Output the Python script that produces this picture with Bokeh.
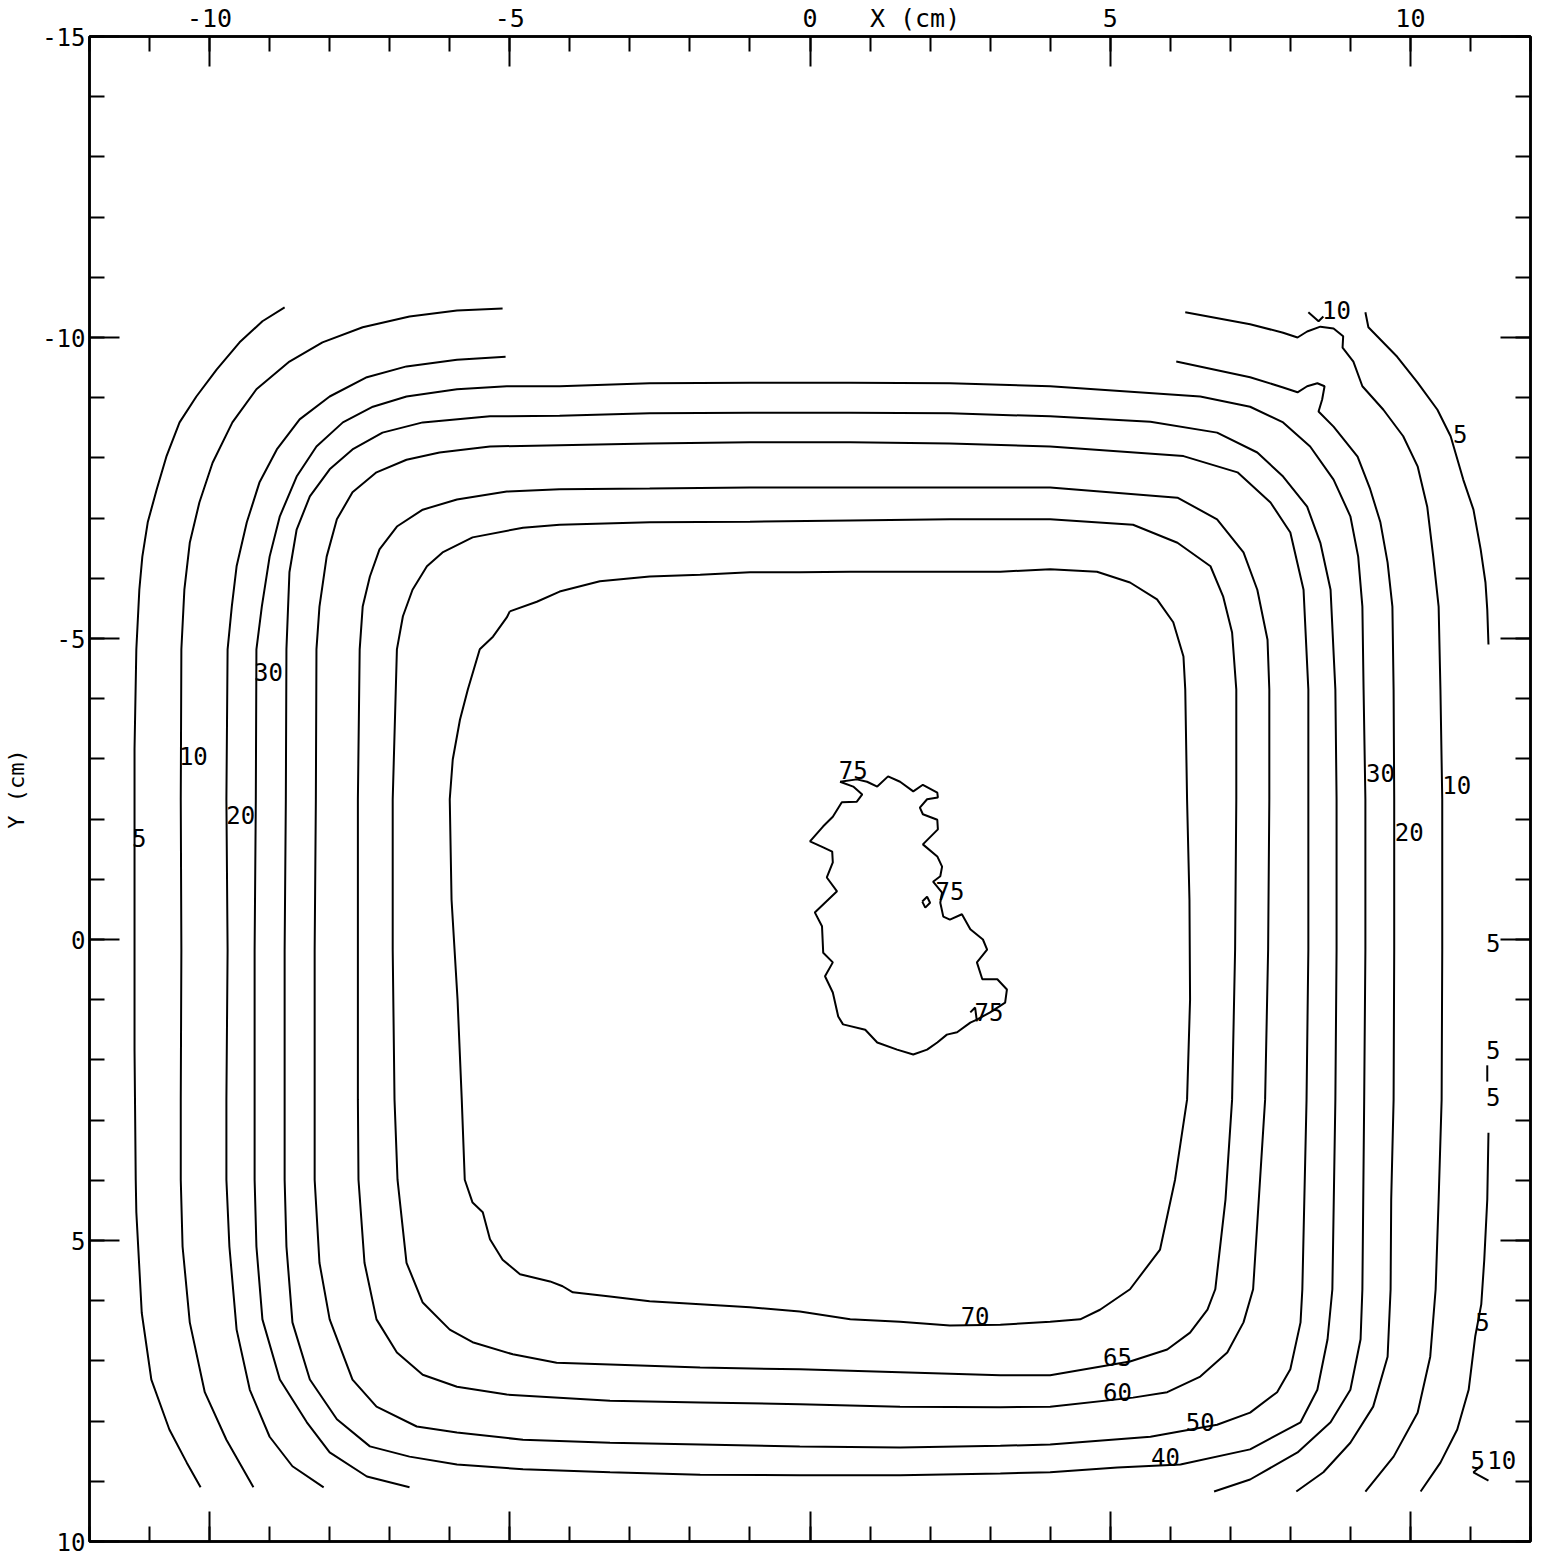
from bokeh.plotting import figure
from bokeh.models import Range1d, LinearAxis, FixedTicker, CustomJSTickFormatter
from bokeh.core.properties import value
from bokeh.embed import file_html
from bokeh.resources import INLINE

FONT = "DejaVu Sans Mono"

# ---------------- axis ticks ----------------
x_major = [-10, -5, 0, 5, 10]
x_minor = list(range(-12, 13))
# top row of texts: tick values plus the axis title "X (cm)"
x_label_pos = [-10, -5, 0, 1.75, 5, 10]
x_label_text = ["-10", "-5", "0", "X (cm)", "5", "10"]
y_major = [-15, -10, -5, 0, 5, 10]
y_major_labels = ["-15", "-10", "-5", "0", "5", "10"]
y_minor = list(range(-15, 11))

# ---------------- contour lines (cm) ----------------
c5_left_x = [-8.75, -9.12, -9.5, -9.88, -10.22, -10.5, -10.72, -10.88, -11.03, -11.12, -11.17, -11.22,
             -11.25, -11.25, -11.25, -11.25, -11.23, -11.22, -11.13, -10.97, -10.67, -10.38, -10.15]
c5_left_y = [-10.5, -10.27, -9.92, -9.47, -9.02, -8.59, -8.02, -7.48, -6.93, -6.36, -5.81, -4.82,
             -3.16, -1.5, 0.17, 1.83, 3.99, 4.53, 6.2, 7.31, 8.14, 8.69, 9.1]

c10_left_x = [-5.12, -5.88, -6.67, -7.45, -8.12, -8.67, -9.22, -9.62, -9.95, -10.17, -10.33, -10.42,
              -10.47, -10.48, -10.47, -10.48, -10.48, -10.45, -10.33, -10.08, -9.72, -9.27]
c10_left_y = [-10.48, -10.45, -10.35, -10.17, -9.92, -9.6, -9.14, -8.59, -7.92, -7.26, -6.59, -5.81,
              -4.82, -2.33, 0.17, 2.66, 3.99, 5.1, 6.36, 7.52, 8.31, 9.1]

c20_left_x = [-5.07, -5.88, -6.72, -7.38, -8.0, -8.5, -8.88, -9.17, -9.38, -9.55, -9.63, -9.7,
              -9.72, -9.7, -9.72, -9.72, -9.67, -9.55, -9.33, -9.0, -8.62, -8.1]
c20_left_y = [-9.68, -9.63, -9.52, -9.34, -9.02, -8.64, -8.14, -7.59, -6.93, -6.2, -5.53, -4.82,
              -2.33, 0.17, 2.66, 3.99, 5.1, 6.48, 7.48, 8.26, 8.75, 9.1]

c30_x = [-6.67, -7.38, -8.0, -8.38, -8.83, -9.12, -9.22, -9.25, -9.25, -9.25, -9.23, -9.22, -9.13,
         -9.0, -8.83, -8.55, -8.22, -7.78, -7.28, -6.72, -5.88, -5.05, -4.17, -2.67, -1.0, 0.67,
         2.33, 4.0, 6.5, 7.33, 7.88, 8.33, 8.72, 9.0, 9.13, 9.2, 9.22, 9.25, 9.25, 9.23, 9.2, 9.17,
         9.0, 8.67, 8.12, 7.33, 6.73]
c30_y = [9.1, 8.92, 8.52, 8.02, 7.31, 6.31, 5.1, 3.99, 2.66, 0.17, -2.33, -4.82, -5.53, -6.36,
         -7.03, -7.69, -8.19, -8.59, -8.85, -9.02, -9.14, -9.19, -9.19, -9.24, -9.25, -9.25, -9.24,
         -9.19, -9.02, -8.85, -8.59, -8.19, -7.64, -7.03, -6.36, -5.53, -4.15, -2.33, 0.17, 2.66,
         5.81, 6.64, 7.48, 8.02, 8.52, 8.97, 9.17]

c40_x = [-4.17, -5.33, -6.45, -7.12, -7.62, -8.0, -8.33, -8.55, -8.67, -8.72, -8.73, -8.75, -8.75,
         -8.75, -8.72, -8.62, -8.33, -7.88, -7.33, -6.67, -5.88, -4.78, -3.33, -1.83, -0.17, 1.5,
         3.17, 4.0, 5.12, 6.17, 7.33, 8.17, 8.45, 8.62, 8.7, 8.75, 8.77, 8.77, 8.75, 8.67, 8.5,
         8.28, 7.88, 7.45, 6.78, 5.67, 4.0, 2.33, 0.67, -1.0, -2.67, -4.17]
c40_y = [-8.7, -8.69, -8.59, -8.42, -8.14, -7.81, -7.36, -6.81, -6.1, -4.82, -2.33, 0.17, 2.66,
         3.99, 5.1, 6.36, 7.31, 7.97, 8.42, 8.59, 8.72, 8.8, 8.85, 8.89, 8.9, 8.9, 8.87, 8.85, 8.77,
         8.72, 8.47, 8.02, 7.48, 6.64, 5.81, 2.66, 0.17, -2.33, -4.15, -5.81, -6.59, -7.19, -7.69,
         -8.09, -8.42, -8.6, -8.69, -8.74, -8.75, -8.75, -8.74, -8.7]

c50_x = [-4.17, -5.33, -6.17, -6.72, -7.22, -7.62, -7.88, -8.05, -8.17, -8.22, -8.23, -8.25, -8.25,
         -8.25, -8.17, -8.0, -7.62, -7.22, -6.55, -5.88, -4.78, -3.33, -1.83, -0.17, 1.5, 3.17, 4.0,
         5.67, 6.78, 7.33, 7.78, 8.0, 8.17, 8.2, 8.27, 8.3, 8.3, 8.3, 8.22, 8.0, 7.67, 7.12, 6.22,
         4.0, 2.33, 0.67, -1.0, -2.67, -4.17]
c50_y = [-8.21, -8.19, -8.09, -7.97, -7.76, -7.43, -6.98, -6.36, -5.53, -4.82, -2.33, 0.17, 2.66,
         3.99, 5.37, 6.31, 7.31, 7.76, 8.09, 8.19, 8.31, 8.36, 8.39, 8.42, 8.44, 8.41, 8.39, 8.26,
         8.06, 7.86, 7.52, 7.14, 6.36, 5.81, 2.66, 0.17, -2.33, -4.15, -5.81, -6.76, -7.26, -7.76,
         -8.03, -8.19, -8.24, -8.26, -8.26, -8.24, -8.21]

c60_x = [-4.17, -5.05, -5.88, -6.45, -6.88, -7.17, -7.33, -7.45, -7.5, -7.53, -7.53, -7.53, -7.52,
         -7.42, -7.22, -6.88, -6.45, -5.88, -5.05, -3.33, -1.83, -0.17, 1.5, 3.17, 4.0, 5.38, 5.95,
         6.5, 6.95, 7.22, 7.38, 7.58, 7.63, 7.65, 7.65, 7.62, 7.45, 7.22, 6.78, 6.12, 4.0, 2.33,
         0.67, -1.0, -2.67, -4.17]
c60_y = [-7.48, -7.44, -7.31, -7.14, -6.86, -6.48, -6.03, -5.53, -4.82, -2.33, 0.17, 2.66, 3.99,
         5.37, 6.31, 6.86, 7.23, 7.43, 7.56, 7.66, 7.69, 7.72, 7.76, 7.77, 7.76, 7.61, 7.52, 7.26,
         6.86, 6.36, 5.81, 2.66, 0.17, -2.33, -4.15, -4.98, -5.81, -6.43, -6.98, -7.34, -7.51,
         -7.51, -7.51, -7.51, -7.49, -7.48]

c65_x = [-4.17, -4.78, -5.62, -6.12, -6.38, -6.62, -6.78, -6.88, -6.95, -6.95, -6.92, -6.87, -6.72,
         -6.45, -6.0, -5.62, -4.95, -4.22, -3.33, -1.83, -0.17, 1.5, 3.17, 4.0, 5.33, 5.95, 6.33,
         6.62, 6.75, 6.92, 7.03, 7.08, 7.1, 7.1, 7.03, 6.88, 6.67, 6.12, 5.38, 4.0, 2.33, 0.67,
         -1.0, -2.67, -4.17]
c65_y = [-6.89, -6.84, -6.68, -6.43, -6.2, -5.81, -5.37, -4.82, -2.33, 0.17, 2.66, 3.99, 5.37,
         6.03, 6.48, 6.69, 6.89, 7.03, 7.06, 7.11, 7.14, 7.19, 7.24, 7.24, 7.01, 6.81, 6.53, 6.15,
         5.81, 4.32, 2.66, 0.17, -2.33, -4.15, -5.1, -5.7, -6.2, -6.59, -6.89, -6.98, -6.98, -6.96,
         -6.94, -6.93, -6.89]

c70_x = [-5.0, -4.55, -4.17, -3.5, -2.67, -1.83, -1.0, -0.17, 0.67, 1.5, 2.33, 3.17, 4.0, 4.78,
         5.33, 5.78, 6.05, 6.22, 6.25, 6.28, 6.32, 6.33, 6.28, 6.08, 5.83, 5.33, 4.83, 4.5, 4.0,
         3.17, 2.33, 1.5, 0.67, -0.17, -1.0, -1.83, -2.67, -3.33, -3.95, -4.12, -4.33, -4.83,
         -5.12, -5.33, -5.45, -5.62, -5.75, -5.8, -5.87, -5.97, -6.0, -5.95, -5.83, -5.7, -5.5,
         -5.28, -5.05, -5.0]
c70_y = [-5.45, -5.61, -5.78, -5.95, -6.03, -6.06, -6.1, -6.1, -6.11, -6.11, -6.11, -6.11, -6.15,
         -6.11, -5.93, -5.65, -5.27, -4.7, -4.15, -2.33, -0.66, 1.0, 2.66, 3.99, 5.15, 5.81, 6.15,
         6.31, 6.35, 6.4, 6.41, 6.35, 6.31, 6.18, 6.11, 6.06, 6.01, 5.93, 5.86, 5.76, 5.68, 5.56,
         5.32, 4.98, 4.53, 4.37, 3.99, 2.66, 1.0, -0.66, -2.33, -2.99, -3.65, -4.15, -4.82, -5.03,
         -5.35, -5.45]

c75_x = [0.5, 0.78, 0.95, 1.12, 1.3, 1.5, 1.72, 1.88, 2.12, 2.13, 1.95, 1.83, 1.88, 2.12, 2.13,
         1.88, 2.12, 2.2, 2.17, 2.05, 2.2, 2.17, 2.22, 2.33, 2.53, 2.67, 2.88, 2.95, 2.78, 2.87,
         3.12, 3.28, 3.25, 3.0, 2.78, 2.67, 2.45, 2.28, 2.12, 1.95, 1.72, 1.45, 1.12, 0.92, 0.55,
         0.47, 0.38, 0.25, 0.38, 0.22, 0.2, 0.08, 0.45, 0.28, 0.38, 0.37, 0.22, 0.0, 0.22, 0.38,
         0.53, 0.78, 0.87, 0.72, 0.5]
c75_y = [-2.62, -2.66, -2.62, -2.54, -2.71, -2.62, -2.46, -2.57, -2.44, -2.36, -2.33, -2.19, -2.08,
         -1.99, -1.83, -1.58, -1.38, -1.21, -1.05, -0.96, -0.78, -0.61, -0.38, -0.33, -0.42, -0.17,
         0.0, 0.17, 0.38, 0.66, 0.66, 0.83, 1.05, 1.21, 1.33, 1.38, 1.54, 1.58, 1.71, 1.83, 1.91,
         1.83, 1.71, 1.5, 1.41, 1.28, 0.88, 0.61, 0.38, 0.22, -0.22, -0.45, -0.8, -1.03, -1.28,
         -1.46, -1.53, -1.63, -1.88, -2.04, -2.28, -2.29, -2.41, -2.54, -2.62]
c75_diamond_x = [1.87, 1.95, 2.0, 1.92, 1.87]
c75_diamond_y = [-0.63, -0.71, -0.61, -0.53, -0.63]
c75_tri_x = [2.67, 2.75, 2.78]
c75_tri_y = [1.21, 1.13, 1.36]

c10_right_x = [6.25, 7.33, 7.88, 8.12, 8.28, 8.5, 8.72, 8.88, 8.87, 9.05, 9.2, 9.55, 9.88, 10.12,
               10.28, 10.38, 10.47, 10.5, 10.53, 10.53, 10.52, 10.47, 10.42, 10.33, 10.12, 9.72, 9.25]
c10_right_y = [-10.42, -10.22, -10.08, -10.0, -10.1, -10.18, -10.15, -10.02, -9.83, -9.6, -9.19,
               -8.8, -8.36, -7.86, -7.19, -6.36, -5.53, -4.15, -2.33, 0.17, 2.66, 4.32, 5.81, 6.93,
               7.86, 8.59, 9.17]
c10_tick_x = [8.3, 8.47, 8.55]
c10_tick_y = [-10.42, -10.27, -10.35]

c20_right_x = [6.1, 7.33, 7.88, 8.12, 8.28, 8.45, 8.57, 8.53, 8.47, 8.72, 9.12, 9.33, 9.5, 9.62,
               9.7, 9.72, 9.73, 9.73, 9.72, 9.68, 9.67, 9.62, 9.38, 9.0, 8.55, 8.1]
c20_right_y = [-9.6, -9.34, -9.17, -9.09, -9.19, -9.24, -9.19, -8.97, -8.77, -8.52, -8.02, -7.48,
               -6.93, -6.26, -5.53, -4.15, -2.33, 0.17, 2.66, 4.32, 5.81, 6.93, 7.76, 8.36, 8.85, 9.17]

c5_right_a_x = [9.25, 9.3, 9.78, 10.12, 10.45, 10.67, 10.88, 11.05, 11.17, 11.25, 11.28, 11.3]
c5_right_a_y = [-10.42, -10.17, -9.68, -9.25, -8.8, -8.36, -7.64, -7.14, -6.48, -5.93, -5.48, -4.9]
c5_right_b_x = [11.28, 11.28]
c5_right_b_y = [2.09, 2.36]
c5_right_c_x = [11.3, 11.28, 11.23, 11.18, 11.08, 10.97, 10.78, 10.5, 10.17]
c5_right_c_y = [3.21, 4.32, 5.32, 6.06, 6.59, 7.48, 8.14, 8.69, 9.17]
c10_hook_x = [11.17, 11.05, 11.3]
c10_hook_y = [8.75, 8.85, 8.99]

# ---------------- contour labels ----------------
label_text = ["75", "75", "75", "70", "65", "60", "50", "40",
              "30", "10", "20", "5",
              "30", "10", "20", "5", "10",
              "5", "5", "5", "5", "5", "10"]
label_x = [0.72, 2.33, 2.98, 2.75, 5.12, 5.12, 6.5, 5.92,
           -9.02, -10.27, -9.48, -11.17,
           9.5, 10.77, 9.98, 10.83, 8.77,
           11.38, 11.38, 11.38, 11.2, 11.12, 11.52]
label_y = [-2.82, -0.8, 1.2, 6.25, 6.94, 7.51, 8.01, 8.59,
           -4.45, -3.04, -2.06, -1.68,
           -2.76, -2.56, -1.78, -8.39, -10.45,
           0.05, 1.83, 2.62, 6.36, 8.64, 8.64]

xs = [c5_left_x, c10_left_x, c20_left_x, c30_x, c40_x, c50_x, c60_x, c65_x, c70_x, c75_x,
      c75_diamond_x, c75_tri_x, c10_right_x, c10_tick_x, c20_right_x, c5_right_a_x,
      c5_right_b_x, c5_right_c_x, c10_hook_x]
ys = [c5_left_y, c10_left_y, c20_left_y, c30_y, c40_y, c50_y, c60_y, c65_y, c70_y, c75_y,
      c75_diamond_y, c75_tri_y, c10_right_y, c10_tick_y, c20_right_y, c5_right_a_y,
      c5_right_b_y, c5_right_c_y, c10_hook_y]

p = figure(frame_width=1441, frame_height=1505,
           x_range=Range1d(-12, 12), y_range=Range1d(10, -15),
           x_axis_location="above", y_axis_location="left",
           output_backend="svg", toolbar_location=None,
           min_border_left=89, min_border_top=36, min_border_right=8, min_border_bottom=14,
           background_fill_color="white", border_fill_color="white")
p.grid.visible = False
p.outline_line_color = "black"
p.outline_line_width = 2.5


def style_axis(ax, ticks, minor, labels=None, size="25px"):
    ax.ticker = FixedTicker(ticks=ticks, minor_ticks=minor)
    ax.axis_line_color = "black"
    ax.axis_line_width = 2.5
    ax.major_tick_in = 30
    ax.major_tick_out = 0
    ax.minor_tick_in = 15
    ax.minor_tick_out = 0
    ax.major_tick_line_width = 2
    ax.minor_tick_line_width = 2
    ax.major_tick_line_color = "black"
    ax.minor_tick_line_color = "black"
    if labels is not None:
        ax.major_label_overrides = {t: s for t, s in zip(ticks, labels)}
        ax.major_label_text_font = FONT
        ax.major_label_text_font_size = size
        ax.major_label_text_color = "black"
    else:
        ax.formatter = CustomJSTickFormatter(code="return ''")
        ax.major_label_text_font_size = "1px"
        ax.major_label_standoff = 0


# top: inner axis carries the frame line and ticks
top = p.xaxis[0]
style_axis(top, x_major, x_minor)

# top: outer axis carries the tick numbers and the "X (cm)" title, no lines
top_text = LinearAxis(ticker=FixedTicker(ticks=x_label_pos, minor_ticks=[]),
                      major_label_overrides={t: s for t, s in zip(x_label_pos, x_label_text)},
                      axis_line_color=None, major_tick_line_color=None, minor_tick_line_color=None,
                      major_tick_in=0, major_tick_out=0, minor_tick_in=0, minor_tick_out=0,
                      major_label_standoff=4, major_label_text_font=FONT,
                      major_label_text_font_size="25px", major_label_text_color="black")
p.add_layout(top_text, "above")

left = p.yaxis[0]
style_axis(left, y_major, y_minor, y_major_labels, size="24px")
left.major_label_standoff = 4
left.axis_label = "Y (cm)"
left.axis_label_text_font = FONT
left.axis_label_text_font_size = "22px"
left.axis_label_text_font_style = "normal"
left.axis_label_text_color = "black"
left.axis_label_standoff = 10

bottom = LinearAxis()
style_axis(bottom, x_major, x_minor)
p.add_layout(bottom, "below")
right = LinearAxis()
style_axis(right, y_major, y_minor)
p.add_layout(right, "right")

p.multi_line(xs=xs, ys=ys, line_color="black", line_width=2)

p.text(x=label_x, y=label_y, text=label_text, text_font=value(FONT), text_font_size="24px",
       text_align="center", text_baseline="middle", text_color="black")

open("out.html", "w").write(file_html(p, INLINE))
